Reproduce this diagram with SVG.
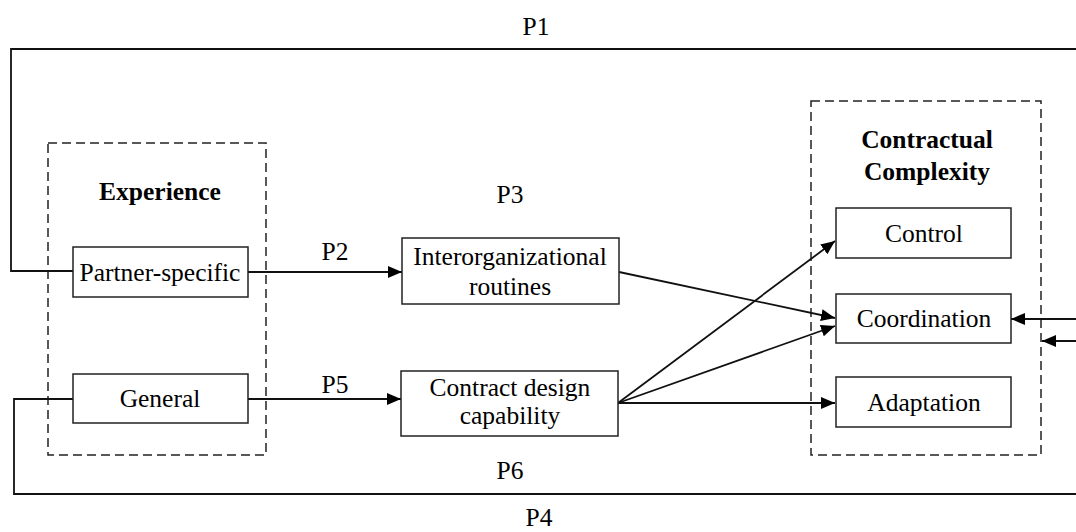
<svg xmlns="http://www.w3.org/2000/svg" width="1076" height="532" viewBox="0 0 1076 532" font-family="'Times New Roman', 'Liberation Serif', Times, serif">
<style>
text{font-family:"Times New Roman","Liberation Serif",Times,serif;font-size:25.5px;font-weight:normal;fill:#000;text-anchor:middle}
text.b{font-weight:bold}
.box{fill:#fff;stroke:#222;stroke-width:1.5}
.grp{fill:none;stroke:#222;stroke-width:1.5;stroke-dasharray:9,5}
.ln{fill:none;stroke:#111;stroke-width:1.8}
.arr{fill:none;stroke:#111;stroke-width:1.8;marker-end:url(#ah)}
</style>
<defs>
<marker id="ah" markerUnits="userSpaceOnUse" markerWidth="16" markerHeight="14" refX="14" refY="6" orient="auto">
<path d="M0,0 L14,6 L0,12 z" fill="#000"/>
</marker>
</defs>
<rect width="1076" height="532" fill="#fff"/>
<g id="experience-group">
<rect class="grp" x="48" y="143" width="218" height="312"/>
<text class="b" x="160" y="200">Experience</text>
</g>
<g id="complexity-group">
<rect class="grp" x="811" y="101" width="230" height="354"/>
<text class="b" x="927" y="148">Contractual</text>
<text class="b" x="927" y="180">Complexity</text>
</g>
<g id="connectors">
<polyline class="ln" points="73,271 11,271 11,49 1076,49"/>
<polyline class="ln" points="73,399 14,399 14,494 1076,494"/>
<line class="arr" x1="248" y1="272" x2="402" y2="272"/>
<line class="arr" x1="248" y1="399" x2="401" y2="399"/>
<line class="arr" x1="619" y1="272" x2="835" y2="318"/>
<line class="arr" x1="618" y1="403" x2="835" y2="241"/>
<line class="arr" x1="618" y1="403" x2="835" y2="326"/>
<line class="arr" x1="618" y1="403" x2="835" y2="403"/>
<line class="arr" x1="1076" y1="319" x2="1011" y2="319"/>
<line class="arr" x1="1076" y1="341" x2="1042" y2="341"/>
<text x="536" y="35">P1</text>
<text x="335" y="260">P2</text>
<text x="510" y="203">P3</text>
<text x="335" y="393">P5</text>
<text x="510" y="479">P6</text>
<text x="539" y="526">P4</text>
</g>
<g id="partner-specific">
<rect class="box" x="73" y="247" width="175" height="50"/>
<text x="160" y="281">Partner-specific</text>
</g>
<g id="general">
<rect class="box" x="73" y="374" width="175" height="49"/>
<text x="160" y="407">General</text>
</g>
<g id="interorganizational-routines">
<rect class="box" x="402" y="238" width="217" height="66"/>
<text x="510" y="265">Interorganizational</text>
<text x="510" y="295">routines</text>
</g>
<g id="contract-design-capability">
<rect class="box" x="401" y="371" width="217" height="65"/>
<text x="510" y="396">Contract design</text>
<text x="510" y="424">capability</text>
</g>
<g id="control">
<rect class="box" x="836" y="208" width="175" height="50"/>
<text x="924" y="242">Control</text>
</g>
<g id="coordination">
<rect class="box" x="836" y="294" width="175" height="49"/>
<text x="924" y="327">Coordination</text>
</g>
<g id="adaptation">
<rect class="box" x="836" y="377" width="175" height="50"/>
<text x="924" y="411">Adaptation</text>
</g>
</svg>
